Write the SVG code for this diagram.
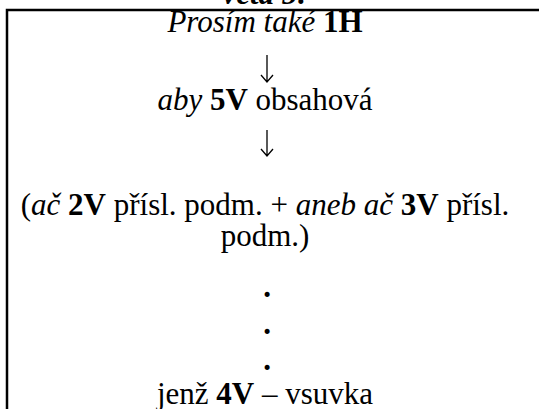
<svg xmlns="http://www.w3.org/2000/svg" width="540" height="409" viewBox="0 0 540 409">
<style>
text{font-family:"Liberation Serif","Times New Roman",serif;font-size:31px;fill:#000;text-anchor:middle}
.i{font-style:italic}
.b{font-weight:bold}
.arr{fill:none;stroke:#000;stroke-width:1.3}
</style>
<rect width="540" height="409" fill="#fff"/>
<text x="265" y="4" class="b i">věta 5:</text>
<path d="M7 409 V10 H539" fill="none" stroke="#000" stroke-width="2.5"/>
<g id="n1"><text x="265" y="32"><tspan class="i">Prosím také</tspan> <tspan class="b">1H</tspan></text></g>
<g id="connectors">
<path class="arr" d="M267 55 V82 M261 75 L267 82 L273 75"/>
<path class="arr" d="M267 130 V156 M261 149 L267 156 L273 149"/>
</g>
<g id="n2"><text x="265" y="110"><tspan class="i">aby</tspan> <tspan class="b">5V</tspan> obsahová</text></g>
<g id="n3"><text x="265" y="215">(<tspan class="i">ač</tspan> <tspan class="b">2V</tspan> přísl. podm. + <tspan class="i">aneb ač</tspan> <tspan class="b">3V</tspan> přísl.</text>
<text x="265" y="246">podm.)</text></g>
<g id="dots" class="b">
<text x="267" y="297">.</text>
<text x="267" y="334">.</text>
<text x="267" y="370">.</text>
</g>
<g id="n4"><text x="265" y="404">jenž <tspan class="b">4V</tspan> – vsuvka</text></g>
</svg>
